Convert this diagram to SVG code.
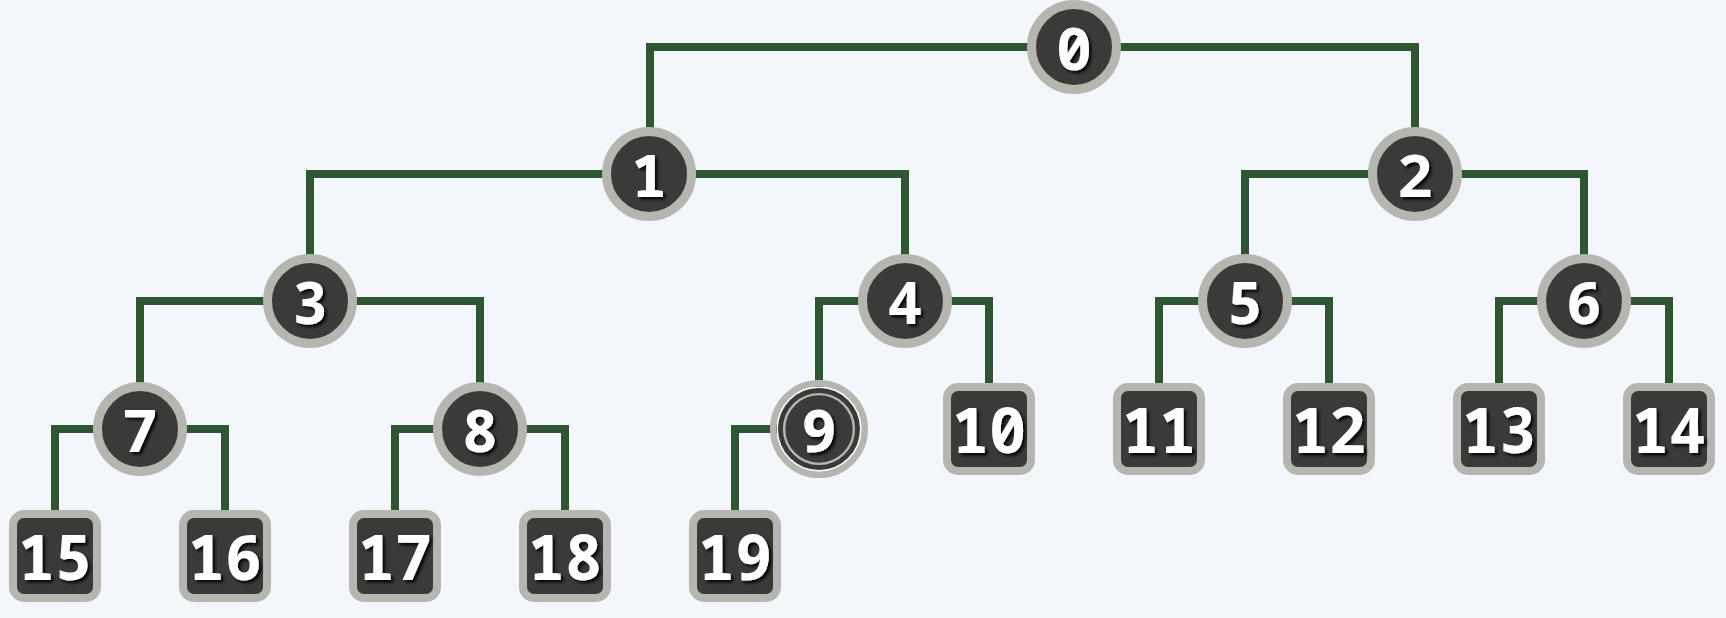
<svg xmlns="http://www.w3.org/2000/svg" width="1726" height="618" viewBox="0 0 1726 618">
<defs>
<filter id="sh" x="-30%" y="-30%" width="160%" height="160%">
<feDropShadow dx="2.5" dy="2.5" stdDeviation="1.5" flood-color="#000" flood-opacity="0.9"/>
</filter>
<style>
.edge{fill:none;stroke:#2e5632;stroke-width:8;stroke-linejoin:miter;stroke-linecap:butt}
.c{fill:#3a3a38;stroke:#b6b6b1;stroke-width:9}
.b{fill:#3a3a38;stroke:#b6b6b1;stroke-width:8}
.t{font-family:"Noto Sans Mono","DejaVu Sans Mono",monospace;font-weight:bold;fill:#fff;text-anchor:middle;filter:url(#sh)}
.tc{font-size:60px}
.tb{font-size:62px}
</style>
</defs>
<rect width="1726" height="618" fill="#f3f7fb"/>
<g id="connectors">
<path class="edge" d="M1074 47 H650 V174"/>
<path class="edge" d="M1074 47 H1415 V174"/>
<path class="edge" d="M649 174 H310 V301"/>
<path class="edge" d="M649 174 H905 V301"/>
<path class="edge" d="M1415 174 H1245 V301"/>
<path class="edge" d="M1415 174 H1584 V301"/>
<path class="edge" d="M310 301 H140 V429"/>
<path class="edge" d="M310 301 H480 V429"/>
<path class="edge" d="M905 301 H819 V429"/>
<path class="edge" d="M905 301 H989 V429"/>
<path class="edge" d="M1245 301 H1159 V429"/>
<path class="edge" d="M1245 301 H1329 V429"/>
<path class="edge" d="M1584 301 H1499 V429"/>
<path class="edge" d="M1584 301 H1669 V429"/>
<path class="edge" d="M140 429 H55 V556"/>
<path class="edge" d="M140 429 H225 V556"/>
<path class="edge" d="M480 429 H395 V556"/>
<path class="edge" d="M480 429 H565 V556"/>
<path class="edge" d="M819 429 H735 V556"/>
</g>
<g id="node0" transform="translate(1074 47)"><circle class="c" r="42.5"/><text class="t tc" y="23">0</text></g>
<g id="node1" transform="translate(649 174)"><circle class="c" r="42.5"/><text class="t tc" y="23">1</text></g>
<g id="node2" transform="translate(1415 174)"><circle class="c" r="42.5"/><text class="t tc" y="23">2</text></g>
<g id="node3" transform="translate(310 301)"><circle class="c" r="42.5"/><text class="t tc" y="23">3</text></g>
<g id="node4" transform="translate(905 301)"><circle class="c" r="42.5"/><text class="t tc" y="23">4</text></g>
<g id="node5" transform="translate(1245 301)"><circle class="c" r="42.5"/><text class="t tc" y="23">5</text></g>
<g id="node6" transform="translate(1584 301)"><circle class="c" r="42.5"/><text class="t tc" y="23">6</text></g>
<g id="node7" transform="translate(140 429)"><circle class="c" r="42.5"/><text class="t tc" y="23">7</text></g>
<g id="node8" transform="translate(480 429)"><circle class="c" r="42.5"/><text class="t tc" y="23">8</text></g>
<g id="node9" transform="translate(819 429)">
<circle r="45.8" fill="none" stroke="#b6b6b1" stroke-width="6.4"/>
<circle r="41.6" fill="#3a3a38" stroke="#ffffff" stroke-width="1.2"/>
<circle r="34.9" fill="none" stroke="#b6b6b1" stroke-width="2.4"/>
<text class="t tc" y="23">9</text></g>
<g id="node10" transform="translate(989 429)"><rect class="b" x="-42" y="-42" width="84" height="84" rx="11"/><text class="t tb" y="24">10</text></g>
<g id="node11" transform="translate(1159 429)"><rect class="b" x="-42" y="-42" width="84" height="84" rx="11"/><text class="t tb" y="24">11</text></g>
<g id="node12" transform="translate(1329 429)"><rect class="b" x="-42" y="-42" width="84" height="84" rx="11"/><text class="t tb" y="24">12</text></g>
<g id="node13" transform="translate(1499 429)"><rect class="b" x="-42" y="-42" width="84" height="84" rx="11"/><text class="t tb" y="24">13</text></g>
<g id="node14" transform="translate(1669 429)"><rect class="b" x="-42" y="-42" width="84" height="84" rx="11"/><text class="t tb" y="24">14</text></g>
<g id="node15" transform="translate(55 556)"><rect class="b" x="-42" y="-42" width="84" height="84" rx="11"/><text class="t tb" y="24">15</text></g>
<g id="node16" transform="translate(225 556)"><rect class="b" x="-42" y="-42" width="84" height="84" rx="11"/><text class="t tb" y="24">16</text></g>
<g id="node17" transform="translate(395 556)"><rect class="b" x="-42" y="-42" width="84" height="84" rx="11"/><text class="t tb" y="24">17</text></g>
<g id="node18" transform="translate(565 556)"><rect class="b" x="-42" y="-42" width="84" height="84" rx="11"/><text class="t tb" y="24">18</text></g>
<g id="node19" transform="translate(735 556)"><rect class="b" x="-42" y="-42" width="84" height="84" rx="11"/><text class="t tb" y="24">19</text></g>
</svg>
